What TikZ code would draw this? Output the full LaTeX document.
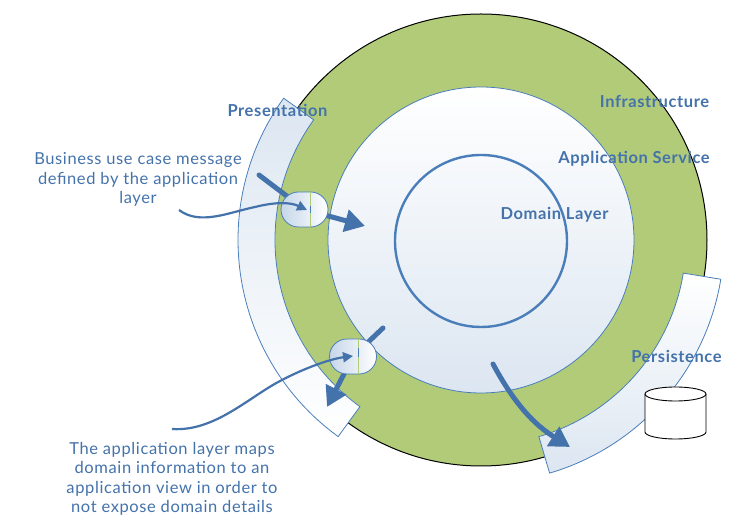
\documentclass[tikz,border=0pt]{standalone}
\usepackage{fontspec}
\setmainfont[LetterSpace=3.7]{Lato}
\usetikzlibrary{arrows.meta,shapes.misc}
\definecolor{ringgreen}{HTML}{B1CB79}
\definecolor{edgeblue}{HTML}{4A7EBB}
\definecolor{arrowblue}{HTML}{4472AB}
\definecolor{paleblue}{HTML}{DCE6F1}
\tikzset{
    layerlabel/.style={text=arrowblue,font=\fontsize{16.5}{19}\selectfont\bfseries},
    notetext/.style={text=arrowblue,align=center,font=\fontsize{16.5}{19.5}\selectfont},
    capsule/.style={rounded rectangle,draw=edgeblue,line width=0.8pt,left color=paleblue!85!edgeblue,right color=white,minimum width=47,minimum height=35,inner sep=0pt},
    thickflow/.style={arrowblue,line width=5pt,line cap=round},
    thinflow/.style={arrowblue,line width=2.2pt,-{Triangle[length=10pt,width=10pt]}},
    bighead/.style={-{Triangle[length=20pt,width=22pt]}}
}
\begin{document}
\begin{tikzpicture}[x=1pt,y=1pt]
    \useasboundingbox (0,0) rectangle (753,524);
    % rings
    \draw[fill=ringgreen,line width=1pt] (481,284) circle (226);
    \shade[top color=paleblue,middle color=paleblue!80,bottom color=white,draw=edgeblue,line width=0.8pt,shift={(481,284)}]
        (144.3:206) arc[start angle=144.3,end angle=234,radius=206] -- (234:243) arc[start angle=234,end angle=144.3,radius=243] -- cycle;
    \shade[top color=white,middle color=paleblue!50,bottom color=paleblue,draw=edgeblue,line width=0.8pt,shift={(481,284)}]
        (-9.3:205) arc[start angle=-9.3,end angle=-73.6,radius=205] -- (-73.6:243) arc[start angle=-73.6,end angle=-9.3,radius=243] -- cycle;
    \shade[top color=white,bottom color=paleblue,draw=edgeblue,line width=0.8pt] (481,284) circle (153);
    \draw[edgeblue,line width=2.4pt] (481,283) circle (86);
    \coordinate (msgfrom) at (259,349);
    \coordinate (msgto) at (365,298);
    \coordinate (viewfrom) at (383,196);
    \coordinate (viewto) at (327,117);
    \coordinate (notefromA) at (179,314);
    \coordinate (notefromB) at (172,95);
    \coordinate (noteinA) at (307,314);
    \coordinate (noteinB) at (353,168);
    \coordinate (persfrom) at (493,160);
    \coordinate (persto) at (570,77);
    \coordinate (capA) at (304.5,314.5);
    \coordinate (capB) at (353,167.5);
    % thick flows go behind the capsules
    \draw[thickflow] (msgfrom) -- (capA);
    \draw[thickflow,line cap=butt,bighead] (capA) -- (msgto);
    \draw[thickflow] (viewfrom) -- (capB);
    \draw[thickflow,line cap=butt,bighead] (capB) -- (viewto);
    \draw[thickflow,bighead] (persfrom) .. controls (515,119) and (535,99) .. (persto);
    \node[capsule] (msg) at (capA) {};
    \node[capsule] (view) at (capB) {};
    \draw[ringgreen,line width=1pt] ([xshift=5.5]msg.north) -- ([xshift=5.5]msg.south);
    \draw[ringgreen,line width=1pt] ([xshift=5]view.north) -- ([xshift=5]view.south);
    \draw[edgeblue,line width=1pt] ([xshift=5.5,yshift=3]msg.center) -- ([xshift=5.5,yshift=-4]msg.center);
    \draw[edgeblue,line width=1pt] ([xshift=5,yshift=8]view.center) -- ([xshift=5,yshift=-1]view.center);
    \draw[thinflow] (notefromA) .. controls (200,298) and (230,312) .. (255,317) .. controls (275,322) and (290,322) .. (noteinA);
    \draw[thinflow] (notefromB) .. controls (215,92) and (250,128) .. (282,144) .. controls (305,156) and (330,165) .. (noteinB);
    % database
    \draw[line width=0.9pt,fill=white] (645,130) -- (645,92) arc[start angle=180,end angle=360,x radius=30.5,y radius=7] -- (706,130) arc[start angle=0,end angle=180,x radius=30.5,y radius=7] -- cycle;
    \draw[line width=0.9pt] (645,130) arc[start angle=180,end angle=360,x radius=30.5,y radius=7];
    % labels
    \node[layerlabel] (presentation) at (277.5,414) {Presentation};
    \node[layerlabel] (infrastructure) at (654.5,422) {Infrastructure};
    \node[layerlabel] (appservice) at (634,365.5) {Application Service};
    \node[layerlabel] (domain) at (554.5,309) {Domain Layer};
    \node[layerlabel] (persistence) at (676.5,168) {Persistence};
    \node[notetext] (noteA) at (138,344.5) {Business use case message\\defined by the application\\layer};
    \node[notetext] (noteB) at (172,45) {The application layer maps\\domain information to an\\application view in order to\\not expose domain details};
\end{tikzpicture}
\end{document}
